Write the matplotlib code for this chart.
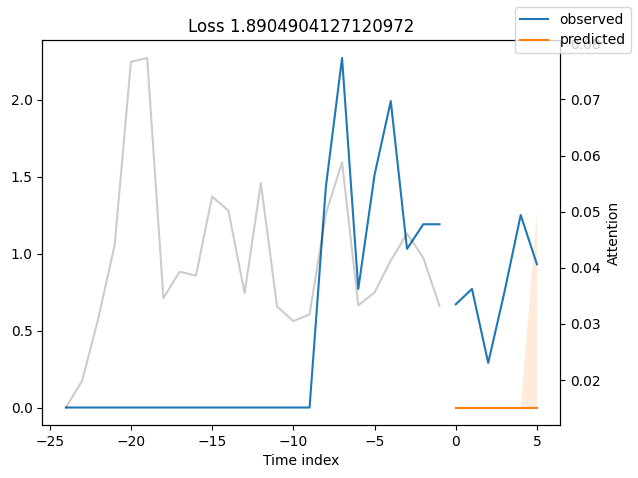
import numpy as np
import matplotlib
matplotlib.use("Agg")
import matplotlib.pyplot as plt

# encoder (history) time index and observed values
x_hist = list(range(-24, 0))
y_hist = [0.0] * 16 + [1.43, 2.27, 0.77, 1.51, 1.99, 1.03, 1.19, 1.19]

# decoder (future) time index, observed and predicted
x_pred = list(range(0, 6))
y_future = [0.67, 0.77, 0.29, 0.75, 1.25, 0.93]
y_predicted = [0.0, 0.0, 0.0, 0.0, 0.0, 0.0]
q_lower = [0.0, 0.0, 0.0, 0.0, 0.0, 0.0]
q_upper = [0.0, 0.0, 0.0, 0.0, 0.0, 1.27]

# attention weights over the encoder
attention = [0.0151, 0.0199, 0.0311, 0.0441, 0.0767, 0.0774, 0.0346, 0.0393,
             0.0386, 0.0527, 0.0502, 0.0355, 0.0551, 0.0331, 0.0305, 0.0317,
             0.0496, 0.0588, 0.0333, 0.0356, 0.0413, 0.0461, 0.0418, 0.0332]

loss_value = 1.8904904127120972

fig, ax = plt.subplots(figsize=(6.38, 4.78), dpi=100)
obs_color = "#1f77b4"
pred_color = "#ff7f0e"

ax.plot(x_hist, y_hist, label="observed", c=obs_color)
ax.plot(x_pred, y_future, c=obs_color)
ax.plot(x_pred, y_predicted, label="predicted", c=pred_color)
ax.fill_between(x_pred, q_lower, q_upper, alpha=0.15, fc=pred_color)

ax2 = ax.twinx()
ax2.set_ylabel("Attention")
ax2.plot(x_hist, attention, alpha=0.2, color="k")

ax.set_title(f"Loss {loss_value}")
ax.set_xlabel("Time index")
fig.legend()
fig.subplots_adjust(left=0.0665, right=0.8785, top=0.9153, bottom=0.1109)
fig.savefig("out.png", dpi=100)
